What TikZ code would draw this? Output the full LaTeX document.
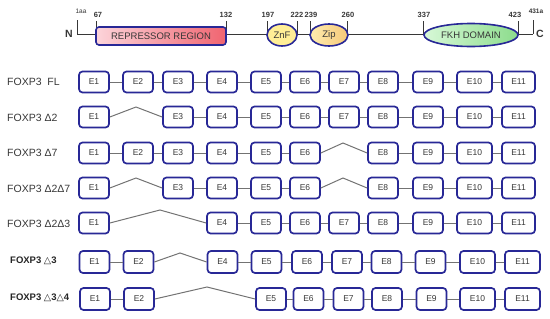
\documentclass[tikz,border=0pt]{standalone}
\usepackage{fontspec}
\setmainfont{Liberation Sans}
\newfontfamily\symf{DejaVu Sans}
\usetikzlibrary{shapes.geometric}
\definecolor{navy}{RGB}{40,40,150}
\definecolor{txtgray}{RGB}{55,55,55}
\definecolor{linkgray}{RGB}{115,115,115}
\begin{document}
\begin{tikzpicture}[x=1pt,y=-1pt,
  exon/.style={draw=navy, line width=1.7pt, rounded corners=3.5pt, fill=white,
    minimum width=30pt, minimum height=21pt, inner sep=0pt,
    font=\fontsize{8.5}{8.5}\selectfont, text=txtgray},
  wide/.style={minimum width=35pt},
  link/.style={draw=linkgray, line width=1pt},
  rowlab/.style={anchor=west, inner sep=0pt, font=\fontsize{10.5}{10.5}\selectfont, text=txtgray},
  rowlabb/.style={anchor=west, inner sep=0pt, font=\fontsize{9.5}{9.5}\selectfont\bfseries, text=black!85},
  num/.style={inner sep=0pt, font=\fontsize{7.5}{7.5}\selectfont\bfseries, text=txtgray},
  tick/.style={draw=txtgray, line width=0.7pt},
  dom/.style={draw=navy, line width=1.6pt, inner sep=0pt, font=\fontsize{9.5}{9.5}\selectfont, text=txtgray}
]
\useasboundingbox (0,0) rectangle (550,319);

% ---------- protein bar ----------
\node[inner sep=0pt, font=\fontsize{10.5}{10.5}\selectfont\bfseries, text=txtgray] (N) at (69,34) {N};
\node[inner sep=0pt, font=\fontsize{10.5}{10.5}\selectfont\bfseries, text=txtgray] (C) at (540,34) {C};
\coordinate (pstart) at (77,34);
\coordinate (pend) at (533,34);
\draw[tick] (pstart) -- (pend);
\draw[tick] (77,20) -- (pstart);
\draw[tick] (533,20) -- (pend);
\foreach \x in {96,226,267,297,310,347,423,518} \draw[tick] (\x,21) -- (\x,34);

\node[dom, rectangle, rounded corners=3pt, minimum width=130pt, minimum height=18pt,
  left color={rgb,255:red,252;green,212;blue,218}, right color={rgb,255:red,240;green,100;blue,112}]
  (rep) at (161,36) {REPRESSOR REGION};
\node[dom, ellipse, minimum width=30pt, minimum height=22pt,
  fill={rgb,255:red,255;green,238;blue,150}] (znf) at (282,35) {ZnF};
\node[dom, ellipse, minimum width=38pt, minimum height=22pt,
  left color={rgb,255:red,255;green,236;blue,175}, right color={rgb,255:red,245;green,200;blue,120}] (zip) at (329,35) {Zip};
\node[dom, ellipse, minimum width=94pt, minimum height=23pt,
  left color={rgb,255:red,215;green,248;blue,215}, right color={rgb,255:red,140;green,220;blue,140}] (fkh) at (471,35) {FKH DOMAIN};

\node[inner sep=0pt, font=\fontsize{6.5}{6.5}\selectfont, text=txtgray] (l1) at (81,11) {1aa};
\node[num] (l67) at (98,15) {67};
\node[num] (l132) at (226,15) {132};
\node[num] (l197) at (268,15) {197};
\node[num] (l222) at (297,15) {222};
\node[num] (l239) at (311,15) {239};
\node[num] (l260) at (348,15) {260};
\node[num] (l337) at (424,15) {337};
\node[num] (l423) at (515,15) {423};
\node[inner sep=0pt, font=\fontsize{6.5}{6.5}\selectfont\bfseries, text=txtgray] (l431) at (536,11) {431a};

% ---------- row labels ----------
\node[rowlab] (la) at (7,82) {FOXP3\ \ FL};
\node[rowlab] (lb) at (7,118) {FOXP3 Δ2};
\node[rowlab] (lc) at (7,153) {FOXP3 Δ7};
\node[rowlab] (ld) at (7,189) {FOXP3 Δ2Δ7};
\node[rowlab] (le) at (7,224) {FOXP3 Δ2Δ3};
\node[rowlabb] (lf) at (10,261) {FOXP3 {\symf\mdseries △}3};
\node[rowlabb] (lg) at (10,298) {FOXP3 {\symf\mdseries △}3{\symf\mdseries △}4};

% ---------- row 1: FL ----------
\foreach \n/\x in {1/94,2/138,3/178,4/222,5/266,6/305,7/344,8/383,9/428}
  \node[exon] (a\n) at (\x,82) {E\n};
\node[exon,wide] (a10) at (474.5,82) {E10};
\node[exon,minimum width=33pt] (a11) at (518.5,82) {E11};
\foreach \i/\j in {1/2,2/3,3/4,4/5,5/6,6/7,7/8,8/9,9/10,10/11}
  \draw[link] (a\i) -- (a\j);

% ---------- row 2: delta2 ----------
\foreach \n/\x in {1/94,3/178,4/222,5/266,6/305,7/344,8/383,9/428}
  \node[exon] (b\n) at (\x,117) {E\n};
\node[exon,wide] (b10) at (474.5,117) {E10};
\node[exon,minimum width=33pt] (b11) at (518.5,117) {E11};
\foreach \i/\j in {3/4,4/5,5/6,6/7,7/8,8/9,9/10,10/11}
  \draw[link] (b\i) -- (b\j);
\coordinate (bp) at (136,107);
\draw[link] (b1.east) -- (bp) -- (b3.west);

% ---------- row 3: delta7 ----------
\foreach \n/\x in {1/94,2/138,3/178,4/222,5/266,6/305,8/383,9/428}
  \node[exon] (c\n) at (\x,153) {E\n};
\node[exon,wide] (c10) at (474.5,153) {E10};
\node[exon,minimum width=33pt] (c11) at (518.5,153) {E11};
\foreach \i/\j in {1/2,2/3,3/4,4/5,5/6,8/9,9/10,10/11}
  \draw[link] (c\i) -- (c\j);
\coordinate (cp) at (343,143);
\draw[link] (c6.east) -- (cp) -- (c8.west);

% ---------- row 4: delta2 delta7 ----------
\foreach \n/\x in {1/94,3/178,4/222,5/266,6/305,8/383,9/428}
  \node[exon] (d\n) at (\x,188) {E\n};
\node[exon,wide] (d10) at (474.5,188) {E10};
\node[exon,minimum width=33pt] (d11) at (518.5,188) {E11};
\foreach \i/\j in {3/4,4/5,5/6,8/9,9/10,10/11}
  \draw[link] (d\i) -- (d\j);
\coordinate (dp1) at (136,178);
\coordinate (dp2) at (343,178);
\draw[link] (d1.east) -- (dp1) -- (d3.west);
\draw[link] (d6.east) -- (dp2) -- (d8.west);

% ---------- row 5: delta2 delta3 ----------
\foreach \n/\x in {1/94,4/222,5/266,6/305,7/344,8/383,9/428}
  \node[exon] (e\n) at (\x,223) {E\n};
\node[exon,wide] (e10) at (474.5,223) {E10};
\node[exon,minimum width=33pt] (e11) at (518.5,223) {E11};
\foreach \i/\j in {4/5,5/6,6/7,7/8,8/9,9/10,10/11}
  \draw[link] (e\i) -- (e\j);
\coordinate (ep) at (160,210);
\draw[link] (e1.east) -- (ep) -- (e4.west);

% ---------- row 6: delta3 ----------
\foreach \n/\x in {1/94.5,2/138.5,4/222.5,5/266.5,6/307,7/347,8/386.5,9/430.5}
  \node[exon,minimum height=22pt] (f\n) at (\x,262) {E\n};
\node[exon,wide,minimum height=22pt] (f10) at (477.5,262) {E10};
\node[exon,wide,minimum height=22pt] (f11) at (522.5,262) {E11};
\foreach \i/\j in {1/2,4/5,5/6,6/7,7/8,8/9,9/10,10/11}
  \draw[link] (f\i) -- (f\j);
\coordinate (fp) at (180,253);
\draw[link] (f2.east) -- (fp) -- (f4.west);

% ---------- row 7: delta3 delta4 ----------
\foreach \n/\x in {1/95,2/139,5/271,6/308.5,7/348.5,8/387,9/431.5}
  \node[exon,minimum height=22pt] (g\n) at (\x,299) {E\n};
\node[exon,wide,minimum height=22pt] (g10) at (477.5,299) {E10};
\node[exon,wide,minimum height=22pt] (g11) at (522.5,299) {E11};
\foreach \i/\j in {1/2,5/6,6/7,7/8,8/9,9/10,10/11}
  \draw[link] (g\i) -- (g\j);
\coordinate (gp) at (207,287);
\draw[link] (g2.east) -- (gp) -- (g5.west);
\end{tikzpicture}
\end{document}
